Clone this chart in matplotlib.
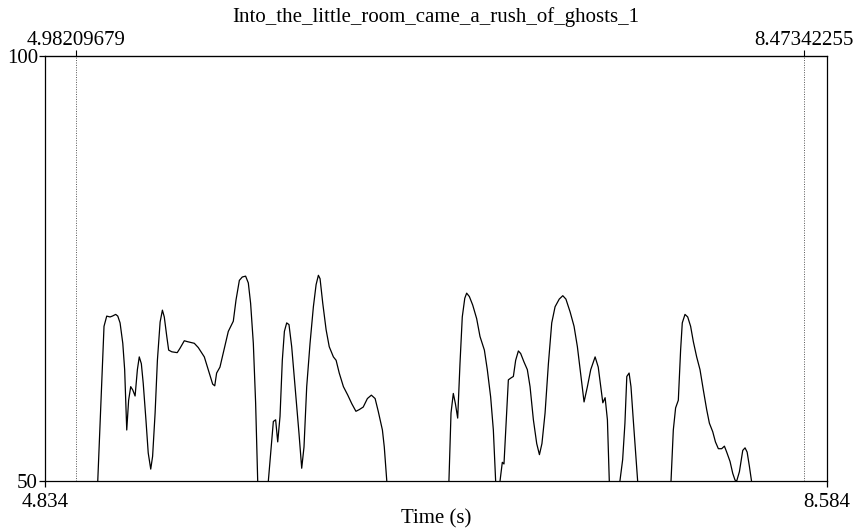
import numpy as np
import matplotlib
matplotlib.use("Agg")
import matplotlib.pyplot as plt

plt.rcParams["font.family"] = ["Liberation Serif", "DejaVu Serif"]

TITLE = "Into_the_little_room_came_a_rush_of_ghosts_1"
X_RANGE = (4.834, 8.584)
Y_RANGE = (50, 100)
CURSOR_TIMES = [4.98209679, 8.47342255]
CURSOR_LABELS = ["4.98209679", "8.47342255"]

nan = np.nan
# intensity contour (dB), nan marks unvoiced gaps
TIME_S = [
    5.087, 5.117, 5.130, 5.146, 5.157, 5.173, 5.183, 5.194, 5.207, 5.216,
    5.226, 5.235, 5.245, 5.255, 5.266, 5.277, 5.286, 5.296, 5.305, 5.318,
    5.329, 5.341, 5.350, 5.362, 5.373, 5.386, 5.397, 5.406, 5.418, 5.427,
    5.442, 5.468, 5.481, 5.502, 5.516, 5.550, 5.569, 5.598, 5.619, 5.638,
    5.648, 5.657, 5.673, 5.692, 5.713, 5.737, 5.750, 5.766, 5.780, 5.796,
    5.809, 5.820, 5.833, 5.844, 5.854, 5.880,
    5.905, 5.929, 5.940, 5.950, 5.961, 5.972, 5.982, 5.993, 6.004, 6.017,
    6.033, 6.052, 6.065, 6.076, 6.089, 6.105, 6.121, 6.134, 6.145, 6.153,
    6.166, 6.182, 6.197, 6.217, 6.230, 6.245, 6.265, 6.286, 6.305, 6.325,
    6.341, 6.360, 6.380, 6.399, 6.417, 6.432, 6.452, 6.461, 6.473, 6.600,
    6.771, 6.781, 6.792, 6.802, 6.813, 6.824, 6.835, 6.847, 6.856, 6.869,
    6.885, 6.904, 6.920, 6.941, 6.955, 6.971, 6.984, 6.995, 7.005,
    7.016, 7.027, 7.035, 7.045, 7.056, 7.067, 7.080, 7.091, 7.104, 7.115,
    7.131, 7.147, 7.160, 7.176, 7.192, 7.205, 7.217, 7.232, 7.248, 7.264,
    7.280, 7.300, 7.317, 7.332, 7.352, 7.371, 7.387, 7.403, 7.419, 7.435,
    7.451, 7.472, 7.487, 7.499, 7.509, 7.520, 7.531, 7.540, 7.565,
    7.591, 7.604, 7.615, 7.624, 7.635, 7.644, 7.655, 7.676, 7.750,
    7.836, 7.847, 7.858, 7.871, 7.882, 7.890, 7.903, 7.916, 7.930, 7.943,
    7.959, 7.975, 7.991, 8.007, 8.020, 8.036, 8.049, 8.063, 8.079, 8.092,
    8.103, 8.119, 8.132, 8.143, 8.151, 8.164, 8.180, 8.191, 8.201, 8.212,
    8.222,
]
INTENSITY_DB = [
    50.0, 68.2, 69.4, 69.3, 69.4, 69.6, 69.4, 68.6, 66.2, 63.1,
    56.0, 59.5, 61.1, 60.7, 60.0, 63.1, 64.6, 63.8, 61.5, 57.2,
    53.3, 51.4, 52.9, 58.0, 64.2, 68.7, 70.1, 69.3, 67.0, 65.4,
    65.2, 65.1, 65.6, 66.5, 66.4, 66.2, 65.7, 64.6, 62.9, 61.4,
    61.2, 62.7, 63.4, 65.4, 67.6, 68.8, 71.3, 73.6, 74.0, 74.1,
    73.3, 70.9, 66.2, 59.2, 50.0, nan,
    50.0, 57.0, 57.2, 54.6, 57.6, 64.2, 67.6, 68.6, 68.4, 65.8,
    61.1, 55.6, 51.5, 54.0, 61.1, 66.2, 70.5, 73.1, 74.2, 73.8,
    70.9, 67.8, 65.8, 64.6, 64.2, 62.7, 61.1, 60.1, 59.1, 58.2,
    58.4, 58.7, 59.7, 60.1, 59.7, 58.2, 56.0, 54.0, 50.0, nan,
    50.0, 58.0, 60.3, 59.1, 57.4, 63.8, 69.3, 71.5, 72.1, 71.7,
    70.7, 69.1, 67.0, 65.4, 63.1, 59.9, 56.0, 50.0, nan,
    50.0, 52.2, 52.0, 56.8, 61.9, 62.1, 62.3, 64.2, 65.3, 65.0,
    64.0, 63.1, 61.1, 57.2, 54.4, 53.1, 54.4, 58.0, 63.8, 68.6,
    70.5, 71.4, 71.8, 71.4, 69.9, 68.2, 65.8, 62.5, 59.3, 61.1,
    63.1, 64.6, 63.4, 61.1, 59.2, 59.8, 57.2, 50.0, nan,
    50.0, 52.5, 56.8, 62.3, 62.7, 61.1, 57.2, 50.0, nan,
    50.0, 56.0, 58.6, 59.5, 65.4, 68.6, 69.6, 69.3, 68.2, 66.4,
    64.6, 63.1, 60.7, 58.4, 56.8, 55.8, 54.6, 53.8, 53.8, 54.1,
    53.4, 52.3, 50.9, 50.1, 50.0, 51.1, 53.6, 53.9, 53.4, 51.7,
    50.0,
]

FONT_SIZE = 15


def main() -> None:
    fig = plt.figure(figsize=(8.58, 5.30), dpi=100)
    ax = fig.add_axes([45 / 858, 49 / 530, 782 / 858, 425 / 530])

    ax.plot(TIME_S, INTENSITY_DB, color="black", lw=0.9)
    for t in CURSOR_TIMES:
        ax.axvline(t, color="#555555", lw=0.7, ls=(0, (1, 1.5)))

    ax.set_xlim(*X_RANGE)
    ax.set_ylim(*Y_RANGE)
    for side in ["left", "right", "top", "bottom"]:
        ax.spines[side].set_linewidth(0.9)

    ax.set_yticks(list(Y_RANGE), labels=[str(v) for v in Y_RANGE])
    ax.set_xticks(list(X_RANGE), labels=[f"{v:.3f}" for v in X_RANGE])
    ax.tick_params(axis="both", direction="out", length=4, width=0.9, labelsize=FONT_SIZE)
    ax.tick_params(axis="y", pad=1)
    ax.tick_params(axis="x", pad=4.8)

    top = ax.secondary_xaxis("top")
    top.set_xticks(CURSOR_TIMES, labels=CURSOR_LABELS)
    top.tick_params(direction="out", length=4, width=0.8, labelsize=FONT_SIZE, pad=0.5)

    fig.text(436 / 858, 1 - 17 / 530, TITLE, ha="center", va="center", fontsize=FONT_SIZE)
    fig.text(436 / 858, 1 - 519 / 530, "Time (s)", ha="center", va="center", fontsize=FONT_SIZE)

    fig.savefig("out.png", dpi=100)
    plt.close(fig)


if __name__ == "__main__":
    main()
